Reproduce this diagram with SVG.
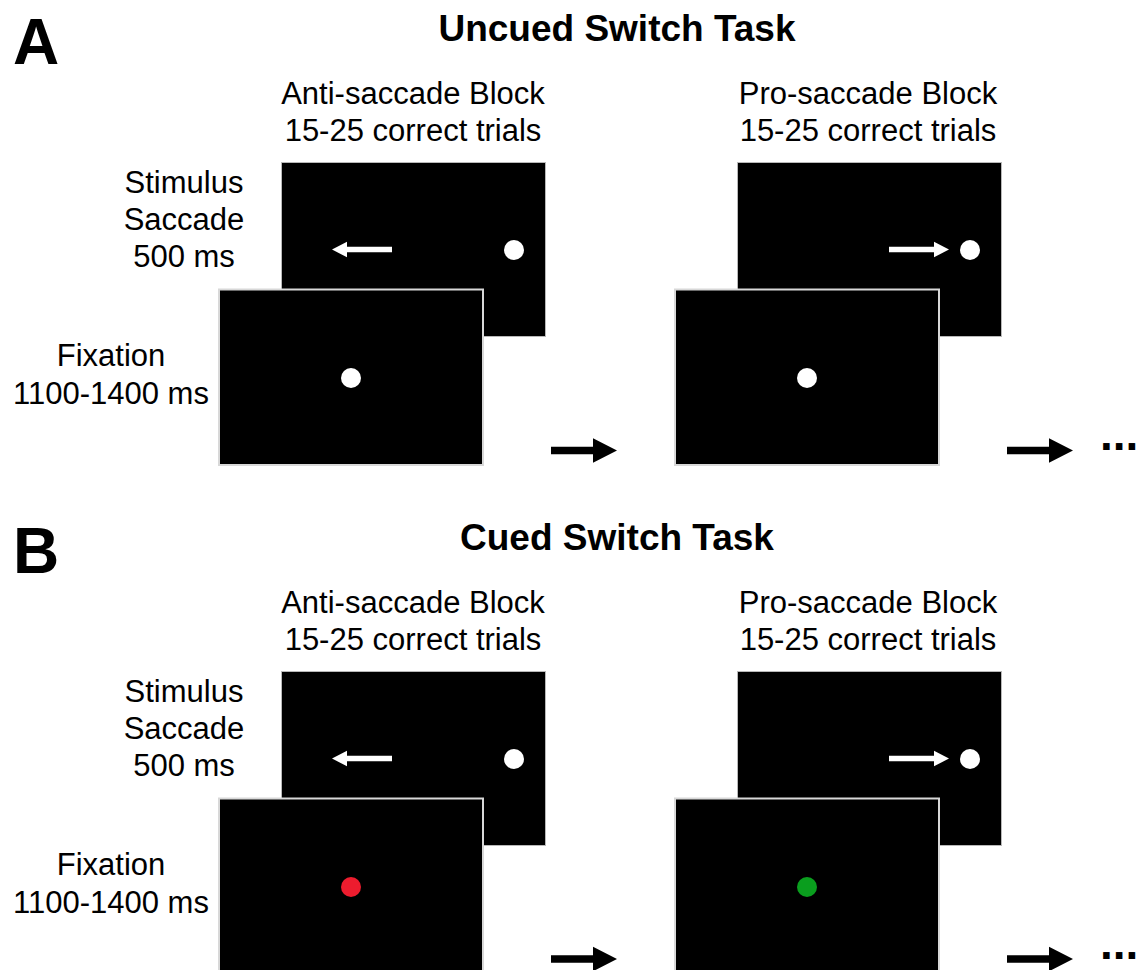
<svg xmlns="http://www.w3.org/2000/svg" width="1139" height="970" viewBox="0 0 1139 970">
<style>
  .lbl{font-family:"Liberation Sans",Arial,sans-serif;font-size:31px;fill:#000;text-anchor:middle}
  .ttl{font-family:"Liberation Sans",Arial,sans-serif;font-size:37px;font-weight:bold;fill:#000;text-anchor:middle}
  .pan{font-family:"Liberation Sans",Arial,sans-serif;font-size:64px;font-weight:bold;fill:#000}
  .dots{font-family:"Liberation Sans",Arial,sans-serif;font-size:46px;font-weight:bold;fill:#000}
  .back{fill:#000;stroke:#b8b8b8;stroke-width:1}
  .front{fill:#000;stroke:#d8d8d8;stroke-width:2}
  .wdot{fill:#fff}
  .warrow{fill:#fff}
  .barrow{fill:#000}
</style>
<defs>
  <polygon id="arrowL" points="0,0 15,-7.8 15,-2.8 60,-2.8 60,2.8 15,2.8 15,7.8"/>
  <polygon id="arrowR" points="60,0 45,-7.8 45,-2.8 0,-2.8 0,2.8 45,2.8 45,7.8"/>
  <polygon id="bigArrow" points="0,-3.8 42,-3.8 42,-12.3 66,0 42,12.3 42,3.8 0,3.8"/>
</defs>
<rect width="1139" height="970" fill="#fff"/>

<!-- Panel A -->
<g id="panelA">
  <text class="pan" x="13" y="64">A</text>
  <text class="ttl" x="617" y="41">Uncued Switch Task</text>
  <g id="A-labels">
    <text class="lbl" x="184" y="193">Stimulus</text>
    <text class="lbl" x="184" y="230">Saccade</text>
    <text class="lbl" x="184" y="267">500 ms</text>
    <text class="lbl" x="111" y="366">Fixation</text>
    <text class="lbl" x="111" y="404">1100-1400 ms</text>
  </g>
  <g id="A-anti">
    <text class="lbl" x="413" y="104">Anti-saccade Block</text>
    <text class="lbl" x="413" y="141">15-25 correct trials</text>
    <g id="A-anti-stim">
      <rect class="back" x="281.5" y="162.5" width="264" height="174"/>
      <use href="#arrowL" class="warrow" x="332" y="249.5"/>
      <circle class="wdot" cx="514" cy="250" r="10"/>
    </g>
    <g id="A-anti-fix">
      <rect class="front" x="219" y="289.5" width="264" height="175.5"/>
      <circle class="wdot" cx="351" cy="378" r="10"/>
    </g>
  </g>
  <g id="A-pro">
    <text class="lbl" x="868" y="104">Pro-saccade Block</text>
    <text class="lbl" x="868" y="141">15-25 correct trials</text>
    <g id="A-pro-stim">
      <rect class="back" x="737.5" y="162.5" width="264" height="174"/>
      <use href="#arrowR" class="warrow" x="889" y="249.5"/>
      <circle class="wdot" cx="970" cy="250" r="10"/>
    </g>
    <g id="A-pro-fix">
      <rect class="front" x="675" y="289.5" width="264" height="175.5"/>
      <circle class="wdot" cx="807" cy="378" r="10"/>
    </g>
  </g>
  <text class="dots" x="1100" y="450">...</text>
</g>

<!-- Panel B -->
<g id="panelB">
  <text class="pan" x="13" y="573">B</text>
  <text class="ttl" x="617" y="550">Cued Switch Task</text>
  <g id="B-labels">
    <text class="lbl" x="184" y="702">Stimulus</text>
    <text class="lbl" x="184" y="739">Saccade</text>
    <text class="lbl" x="184" y="776">500 ms</text>
    <text class="lbl" x="111" y="875">Fixation</text>
    <text class="lbl" x="111" y="913">1100-1400 ms</text>
  </g>
  <g id="B-anti">
    <text class="lbl" x="413" y="613">Anti-saccade Block</text>
    <text class="lbl" x="413" y="650">15-25 correct trials</text>
    <g id="B-anti-stim">
      <rect class="back" x="281.5" y="671.5" width="264" height="174"/>
      <use href="#arrowL" class="warrow" x="332" y="758.5"/>
      <circle class="wdot" cx="514" cy="759" r="10"/>
    </g>
    <g id="B-anti-fix">
      <rect class="front" x="219" y="798.5" width="264" height="175.5"/>
      <circle cx="351" cy="887" r="10" fill="#ED1C2E"/>
    </g>
  </g>
  <g id="B-pro">
    <text class="lbl" x="868" y="613">Pro-saccade Block</text>
    <text class="lbl" x="868" y="650">15-25 correct trials</text>
    <g id="B-pro-stim">
      <rect class="back" x="737.5" y="671.5" width="264" height="174"/>
      <use href="#arrowR" class="warrow" x="889" y="758.5"/>
      <circle class="wdot" cx="970" cy="759" r="10"/>
    </g>
    <g id="B-pro-fix">
      <rect class="front" x="675" y="798.5" width="264" height="175.5"/>
      <circle cx="807" cy="887" r="10" fill="#0A9E1E"/>
    </g>
  </g>
  <text class="dots" x="1100" y="959">...</text>
</g>

<!-- Connectors -->
<g id="connectors">
  <use href="#bigArrow" class="barrow" x="551" y="450.5"/>
  <use href="#bigArrow" class="barrow" x="1007" y="450.5"/>
  <use href="#bigArrow" class="barrow" x="551" y="959"/>
  <use href="#bigArrow" class="barrow" x="1007" y="959"/>
</g>
</svg>
